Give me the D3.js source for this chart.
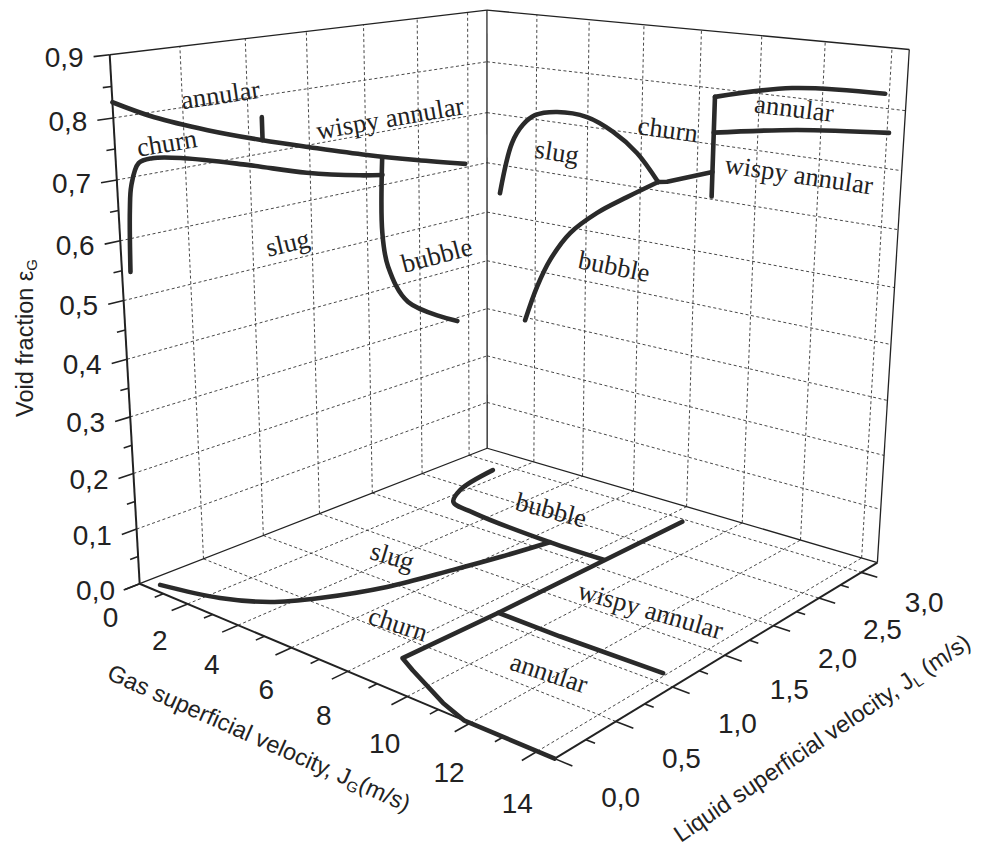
<!DOCTYPE html>
<html>
<head>
<meta charset="utf-8">
<script src="https://cdn.jsdelivr.net/npm/d3@7"></script>
<style>
  body { margin: 0; background: #fff; }
  .grid { fill: none; stroke: #333; stroke-width: 0.9; stroke-dasharray: 3 2.5; }
  .frame { fill: none; stroke: #222; stroke-width: 1.3; }
  .axis { fill: none; stroke: #222; stroke-width: 2; }
  .tick { stroke: #222; stroke-width: 1.6; }
  .boundary { fill: none; stroke: #2a2a2a; stroke-width: 4.6; stroke-linecap: round; stroke-linejoin: round; }
  .ticklabel { font-family: "Liberation Sans", Arial, sans-serif; font-size: 28px; fill: #222; }
  .title { font-family: "Liberation Sans", Arial, sans-serif; font-size: 23.5px; fill: #222; }
  .region { font-family: "Liberation Serif", "Times New Roman", serif; font-size: 26.5px; fill: #222; }
</style>
</head>
<body>
<svg id="chart" width="983" height="847"></svg>
<script>
// axis ranges
const jgMax = 14.5, jlMax = 3.2, epsMax = 0.9;
const jgTicks = [0, 2, 4, 6, 8, 10, 12, 14];
const jlTicks = [0, 0.5, 1.0, 1.5, 2.0, 2.5, 3.0];
const epsTicks = [0, 0.1, 0.2, 0.3, 0.4, 0.5, 0.6, 0.7, 0.8, 0.9];

// left wall (JG = 0): [JL, void fraction]
const leftAnnularChurn = [[0, 0.825], [0.29, 0.791], [0.68, 0.756], [1.11, 0.723], [1.5, 0.696], [2.01, 0.662], [2.48, 0.634], [2.97, 0.607]];
const leftAnnularMark = [[1.11, 0.723], [1.11, 0.763]];
const leftChurnSlug = [[0.06, 0.545], [0.08, 0.647], [0.1, 0.687], [0.16, 0.721], [0.26, 0.725], [0.49, 0.716], [0.98, 0.685], [1.47, 0.651], [1.94, 0.627], [2.15, 0.619]];
const leftSlugBubble = [[2.15, 0.651], [2.14, 0.509], [2.19, 0.441], [2.38, 0.361], [2.88, 0.293]];
const leftLabels = [["annular", 0.79, 0.812], ["churn", 0.37, 0.746], ["wispy annular", 2.23, 0.723], ["slug", 1.29, 0.532], ["bubble", 2.67, 0.439]];

// back wall (JL = max): [JG, void fraction]
const backSlugArc = [[0.54, 0.543], [1.03, 0.647], [1.47, 0.686], [1.95, 0.708], [2.82, 0.72], [3.97, 0.718], [4.96, 0.697], [5.85, 0.664], [6.64, 0.616]];
const backChurnLine = [[6.64, 0.616], [6.96, 0.619], [8.53, 0.65]];
const backVertical = [[8.53, 0.785], [8.53, 0.605]];
const backAnnularTop = [[8.53, 0.785], [11.04, 0.816], [13.88, 0.824]];
const backAnnularWispy = [[8.53, 0.721], [11.25, 0.745], [14.06, 0.76]];
const backBubbleArc = [[6.64, 0.616], [5.52, 0.578], [4.41, 0.538], [3.38, 0.489], [2.6, 0.428], [2.08, 0.368], [1.6, 0.294]];
const backLabels = [["slug", 2.83, 0.643], ["churn", 6.94, 0.716], ["annular", 11.13, 0.782], ["wispy annular", 11.38, 0.668], ["bubble", 5.09, 0.441]];

// floor (void fraction = 0): [JG, JL]
const floorSlugChurn = [[0.48, 0.07], [2.36, 0.18], [3.56, 0.335], [4.38, 0.566], [5.24, 0.94], [5.83, 1.39], [6.23, 1.73], [6.61, 2.12]];
const floorBubble = [[1.49, 2.88], [1.87, 2.44], [2.39, 2.24], [3.45, 2.18], [6.61, 2.12], [8.56, 2.12]];
const floorChurnAnnular = [[8.6, 2.96], [8.6, 1.12], [8.52, 0.31], [9.16, 0.24], [10.86, 0.07], [11.8, 0], [14.5, 0]];
const floorAnnularWispy = [[8.6, 1.1], [10.7, 1.09], [13.9, 1.1]];
const floorLabels = [["bubble", 5.06, 2.56], ["slug", 3.89, 1.30], ["churn", 7.08, 0.61], ["annular", 11.78, 0.70], ["wispy annular", 11.53, 1.71]];

// perspective camera matching the reference view (unit cube -> pixels)
const camera = [
  [313.28, 452.4381, -38.571894, 139.66372],
  [35.69873, -38.936097, -533.29558, 583.73021],
  [-0.18347835, 0.21538049, -0.07861817, 1]
];

const sx = d3.scaleLinear().domain([0, jgMax]).range([0, 1]);
const sy = d3.scaleLinear().domain([0, jlMax]).range([0, 1]);
const sz = d3.scaleLinear().domain([0, epsMax]).range([0, 1]);

function project(jg, jl, eps) {
  const X = [sx(jg), sy(jl), sz(eps), 1];
  const r = camera.map(m => m[0] * X[0] + m[1] * X[1] + m[2] * X[2] + m[3]);
  return [r[0] / r[2], r[1] / r[2]];
}
const onLeft = p => project(0, p[0], p[1]);
const onBack = p => project(p[0], jlMax, p[1]);
const onFloor = p => project(p[0], p[1], 0);

const comma = d3.formatLocale({ decimal: ",", thousands: ".", grouping: [3], currency: ["", ""] }).format(".1f");

const svg = d3.select("#chart");
const straight = d3.line();
const smooth = d3.line().curve(d3.curveCatmullRom.alpha(0.5));

const gridG = svg.append("g");
function seg(g, cls, a, b) {
  g.append("path").attr("class", cls).attr("d", straight([a, b]));
}

// grid on the three planes
d3.range(1, 7).forEach(i => {
  const jl = i * 0.5;
  seg(gridG, "grid", project(0, jl, 0), project(0, jl, epsMax));
  seg(gridG, "grid", project(0, jl, 0), project(jgMax, jl, 0));
});
d3.range(1, 8).forEach(i => {
  const jg = i * 2;
  seg(gridG, "grid", project(jg, jlMax, 0), project(jg, jlMax, epsMax));
  seg(gridG, "grid", project(jg, 0, 0), project(jg, jlMax, 0));
});
d3.range(1, 9).forEach(i => {
  const e = i * 0.1;
  seg(gridG, "grid", project(0, 0, e), project(0, jlMax, e));
  seg(gridG, "grid", project(0, jlMax, e), project(jgMax, jlMax, e));
});

// box edges
const frameG = svg.append("g");
seg(frameG, "frame", project(0, 0, epsMax), project(0, jlMax, epsMax));
seg(frameG, "frame", project(0, jlMax, epsMax), project(jgMax, jlMax, epsMax));
seg(frameG, "frame", project(0, jlMax, 0), project(0, jlMax, epsMax));
seg(frameG, "frame", project(jgMax, jlMax, 0), project(jgMax, jlMax, epsMax));
seg(frameG, "frame", project(0, 0, 0), project(0, jlMax, 0));
seg(frameG, "frame", project(0, jlMax, 0), project(jgMax, jlMax, 0));

// axes
const axisG = svg.append("g");
seg(axisG, "axis", project(0, 0, 0), project(0, 0, epsMax));
seg(axisG, "axis", project(0, 0, 0), project(jgMax, 0, 0));
seg(axisG, "axis", project(jgMax, 0, 0), project(jgMax, jlMax, 0));

// void fraction ticks (pointing toward -JL)
d3.range(0, 19).forEach(i => {
  const e = i * 0.05, major = i % 2 === 0;
  seg(axisG, "tick", project(0, 0, e), project(0, major ? -0.11 : -0.06, e));
});
epsTicks.forEach(e => {
  const p = project(0, -0.11, e);
  axisG.append("text").attr("class", "ticklabel")
    .attr("x", p[0] - 10).attr("y", p[1] + 1)
    .attr("text-anchor", "end").attr("dominant-baseline", "central")
    .text(comma(e));
});

// JG ticks (pointing toward -JL)
d3.range(0, 15).forEach(g => {
  const major = g % 2 === 0;
  seg(axisG, "tick", project(g, 0, 0), project(g, major ? -0.12 : -0.065, 0));
});
jgTicks.forEach(g => {
  const p = project(g, 0, 0);
  axisG.append("text").attr("class", "ticklabel")
    .attr("x", p[0] - 29 + 9 * g / 14).attr("y", p[1] + 34 + 18 * g / 14)
    .attr("text-anchor", "middle").attr("dominant-baseline", "central")
    .text(g);
});

// JL ticks (pointing toward +JG)
d3.range(0, 13).forEach(i => {
  const jl = i * 0.25, major = i % 2 === 0;
  seg(axisG, "tick", project(jgMax, jl, 0), project(jgMax + (major ? 0.5 : 0.26), jl, 0));
});
jlTicks.forEach(jl => {
  const p = project(jgMax, jl, 0);
  axisG.append("text").attr("class", "ticklabel")
    .attr("x", p[0] + 66 - jl).attr("y", p[1] + 39 - 3 * jl)
    .attr("text-anchor", "middle").attr("dominant-baseline", "central")
    .text(comma(jl));
});

// axis titles
function title(x, y, angle, main, sub, tail) {
  const t = svg.append("text").attr("class", "title")
    .attr("text-anchor", "middle").attr("dominant-baseline", "central")
    .attr("transform", `translate(${x},${y}) rotate(${angle})`);
  t.append("tspan").text(main);
  t.append("tspan").attr("font-size", 15).attr("dy", 6).text(sub);
  if (tail) t.append("tspan").attr("dy", -6).text(tail);
}
title(25, 338, -90, "Void fraction \u03b5", "G", "");
title(259, 738, 24, "Gas superficial velocity, J", "G", "(m/s)");
title(822, 738, -34, "Liquid superficial velocity, J", "L", " (m/s)");

// regime boundaries
const boundaries = [
  [leftAnnularChurn, onLeft, smooth], [leftAnnularMark, onLeft, straight],
  [leftChurnSlug, onLeft, smooth], [leftSlugBubble, onLeft, smooth],
  [backSlugArc, onBack, smooth], [backChurnLine, onBack, straight],
  [backVertical, onBack, straight], [backAnnularTop, onBack, smooth],
  [backAnnularWispy, onBack, smooth], [backBubbleArc, onBack, smooth],
  [floorSlugChurn, onFloor, smooth], [floorBubble, onFloor, smooth],
  [floorChurnAnnular, onFloor, straight], [floorAnnularWispy, onFloor, straight]
];
svg.append("g").selectAll("path").data(boundaries).join("path")
  .attr("class", "boundary")
  .attr("d", d => d[2](d[0].map(d[1])));

// regime names, turned with the plane they sit on
function labels(list, place, dir, factor) {
  svg.append("g").selectAll("text").data(list).join("text")
    .attr("class", "region")
    .attr("text-anchor", "middle").attr("dominant-baseline", "central")
    .attr("transform", d => {
      const p = place([d[1], d[2]]);
      const q = dir(d[1], d[2]);
      const a = Math.atan2(q[1] - p[1], q[0] - p[0]) * 180 / Math.PI * factor;
      return `translate(${p[0]},${p[1]}) rotate(${a})`;
    })
    .text(d => d[0]);
}
labels(leftLabels, onLeft, (a, b) => onLeft([a + 0.2, b]), 1);
labels(backLabels, onBack, (a, b) => onBack([a + 1, b]), 1);
labels(floorLabels, onFloor, (a, b) => onFloor([a + 1, b]), 0.85);
</script>
</body>
</html>
